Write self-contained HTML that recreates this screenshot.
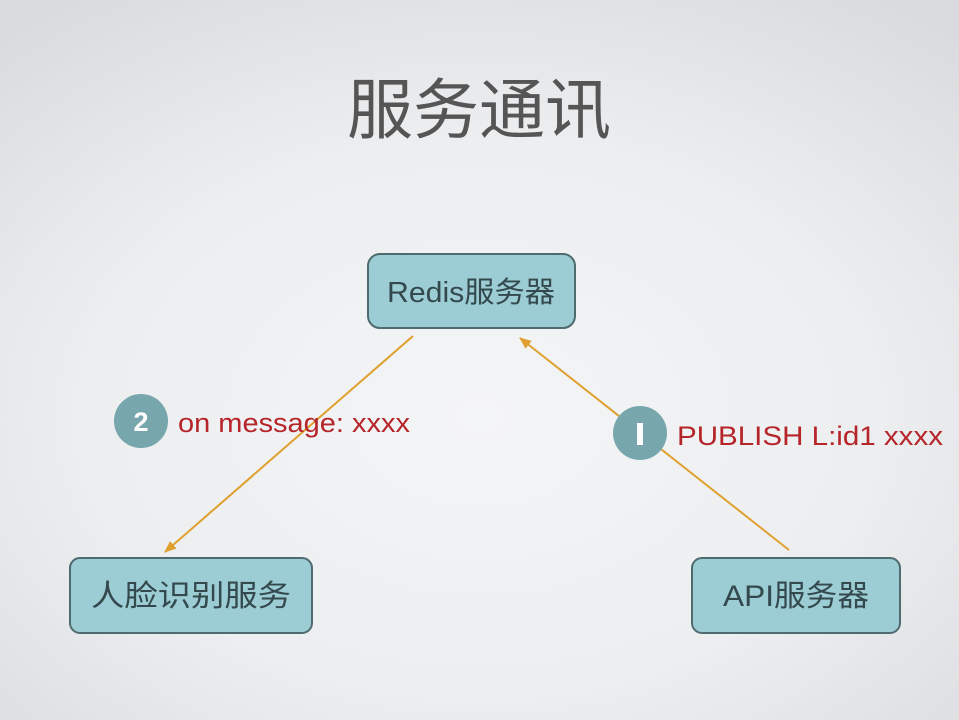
<!DOCTYPE html>
<html><head><meta charset="utf-8"><style>
html,body{margin:0;padding:0;width:959px;height:720px;overflow:hidden}
body{background:radial-gradient(ellipse 75% 70% at 50% 58%,#f4f5f6 0%,#eceef0 55%,#d9dbde 100%)}
svg{position:absolute;left:0;top:0}
text{font-family:"Liberation Sans","Noto Sans CJK SC",sans-serif}
</style></head><body>
<svg width="959" height="720" viewBox="0 0 959 720">
<defs>
<marker id="a" markerWidth="14" markerHeight="12" refX="11" refY="6" orient="auto" markerUnits="userSpaceOnUse">
<path d="M0,1 L12,6 L0,11 z" fill="#e0a030"/></marker>
</defs>
<text x="479" y="133" text-anchor="middle" font-size="66" fill="#555">服务通讯</text>
<line x1="413" y1="336" x2="165" y2="552" stroke="#e0a030" stroke-width="2" marker-end="url(#a)"/>
<line x1="789" y1="550" x2="520" y2="338" stroke="#e0a030" stroke-width="2" marker-end="url(#a)"/>
<rect x="368" y="254" width="207" height="74" rx="12" fill="#9ccdd4" stroke="#4f6b70" stroke-width="2"/>
<text x="471" y="302" text-anchor="middle" font-size="29" fill="#34494d" textLength="168" lengthAdjust="spacingAndGlyphs">Redis服务器</text>
<rect x="70" y="558" width="242" height="75" rx="10" fill="#9ccdd4" stroke="#4f6b70" stroke-width="2"/>
<text x="191" y="606" text-anchor="middle" font-size="30" fill="#34494d" textLength="200" lengthAdjust="spacingAndGlyphs">人脸识别服务</text>
<rect x="692" y="558" width="208" height="75" rx="10" fill="#9ccdd4" stroke="#4f6b70" stroke-width="2"/>
<text x="796" y="606" text-anchor="middle" font-size="30" fill="#34494d" textLength="146" lengthAdjust="spacingAndGlyphs">API服务器</text>
<circle cx="141" cy="421" r="27" fill="#77a6ad"/>
<text x="141" y="431" text-anchor="middle" font-size="27" font-weight="bold" fill="#fff">2</text>
<text x="178" y="432" font-size="27" fill="#b5252a" textLength="232" lengthAdjust="spacingAndGlyphs">on message: xxxx</text>
<circle cx="640" cy="433" r="27" fill="#77a6ad"/>
<rect x="637" y="423" width="6" height="22" fill="#fff"/>
<text x="677" y="445" font-size="27" fill="#b5252a" textLength="266" lengthAdjust="spacingAndGlyphs">PUBLISH L:id1  xxxx</text>
</svg>
</body></html>
